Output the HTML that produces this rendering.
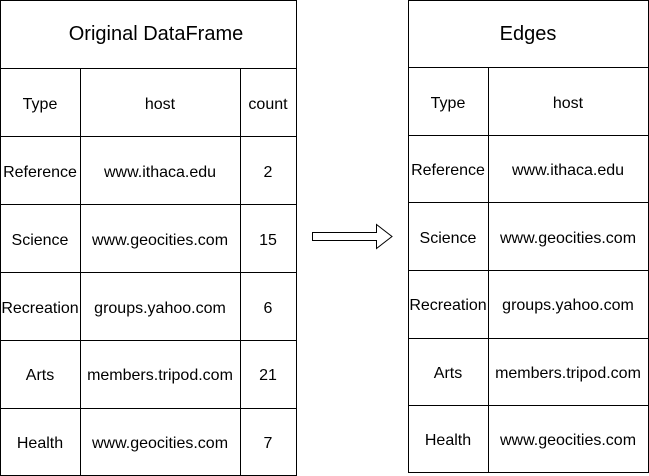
<!DOCTYPE html>
<html><head><style>body{margin:0;background:#fff}svg{display:block}</style></head><body>
<svg width="649" height="476" xmlns="http://www.w3.org/2000/svg" font-family="Liberation Sans, sans-serif" font-size="16" text-anchor="middle">
<g fill="none" stroke="#000" stroke-width="1">
<rect x="0.5" y="0.5" width="296" height="475"/>
<line x1="0" y1="68.5" x2="296" y2="68.5"/>
<line x1="0" y1="136.5" x2="296" y2="136.5"/>
<line x1="0" y1="204.5" x2="296" y2="204.5"/>
<line x1="0" y1="272.5" x2="296" y2="272.5"/>
<line x1="0" y1="340.5" x2="296" y2="340.5"/>
<line x1="0" y1="408.5" x2="296" y2="408.5"/>
<line x1="80.5" y1="68" x2="80.5" y2="476"/>
<line x1="240.5" y1="68" x2="240.5" y2="476"/>
<rect x="408.5" y="0.5" width="240" height="472"/>
<line x1="408" y1="67.5" x2="648" y2="67.5"/>
<line x1="408" y1="135.5" x2="648" y2="135.5"/>
<line x1="408" y1="202.5" x2="648" y2="202.5"/>
<line x1="408" y1="270.5" x2="648" y2="270.5"/>
<line x1="408" y1="338.5" x2="648" y2="338.5"/>
<line x1="408" y1="405.5" x2="648" y2="405.5"/>
<line x1="488.5" y1="67" x2="488.5" y2="472"/>
<path d="M312.5 232.5 H376.5 V224.5 L392 236.5 L376.5 248.5 V240.5 H312.5 Z"/>
</g>
<g fill="#000">
<text x="156" y="40" font-size="20">Original DataFrame</text>
<text x="40" y="109">Type</text><text x="160" y="109">host</text><text x="268" y="109">count</text>
<text x="40" y="177">Reference</text><text x="160" y="177">www.ithaca.edu</text><text x="268" y="177">2</text>
<text x="40" y="245">Science</text><text x="160" y="245">www.geocities.com</text><text x="268" y="245">15</text>
<text x="40" y="313">Recreation</text><text x="160" y="313">groups.yahoo.com</text><text x="268" y="313">6</text>
<text x="40" y="380">Arts</text><text x="160" y="380">members.tripod.com</text><text x="268" y="380">21</text>
<text x="40" y="448">Health</text><text x="160" y="448">www.geocities.com</text><text x="268" y="448">7</text>
<text x="528" y="40" font-size="20">Edges</text>
<text x="448" y="108">Type</text><text x="568" y="108">host</text>
<text x="448" y="175">Reference</text><text x="568" y="175">www.ithaca.edu</text>
<text x="448" y="243">Science</text><text x="568" y="243">www.geocities.com</text>
<text x="448" y="310">Recreation</text><text x="568" y="310">groups.yahoo.com</text>
<text x="448" y="378">Arts</text><text x="568" y="378">members.tripod.com</text>
<text x="448" y="445">Health</text><text x="568" y="445">www.geocities.com</text>
</g>
</svg>
</body></html>
